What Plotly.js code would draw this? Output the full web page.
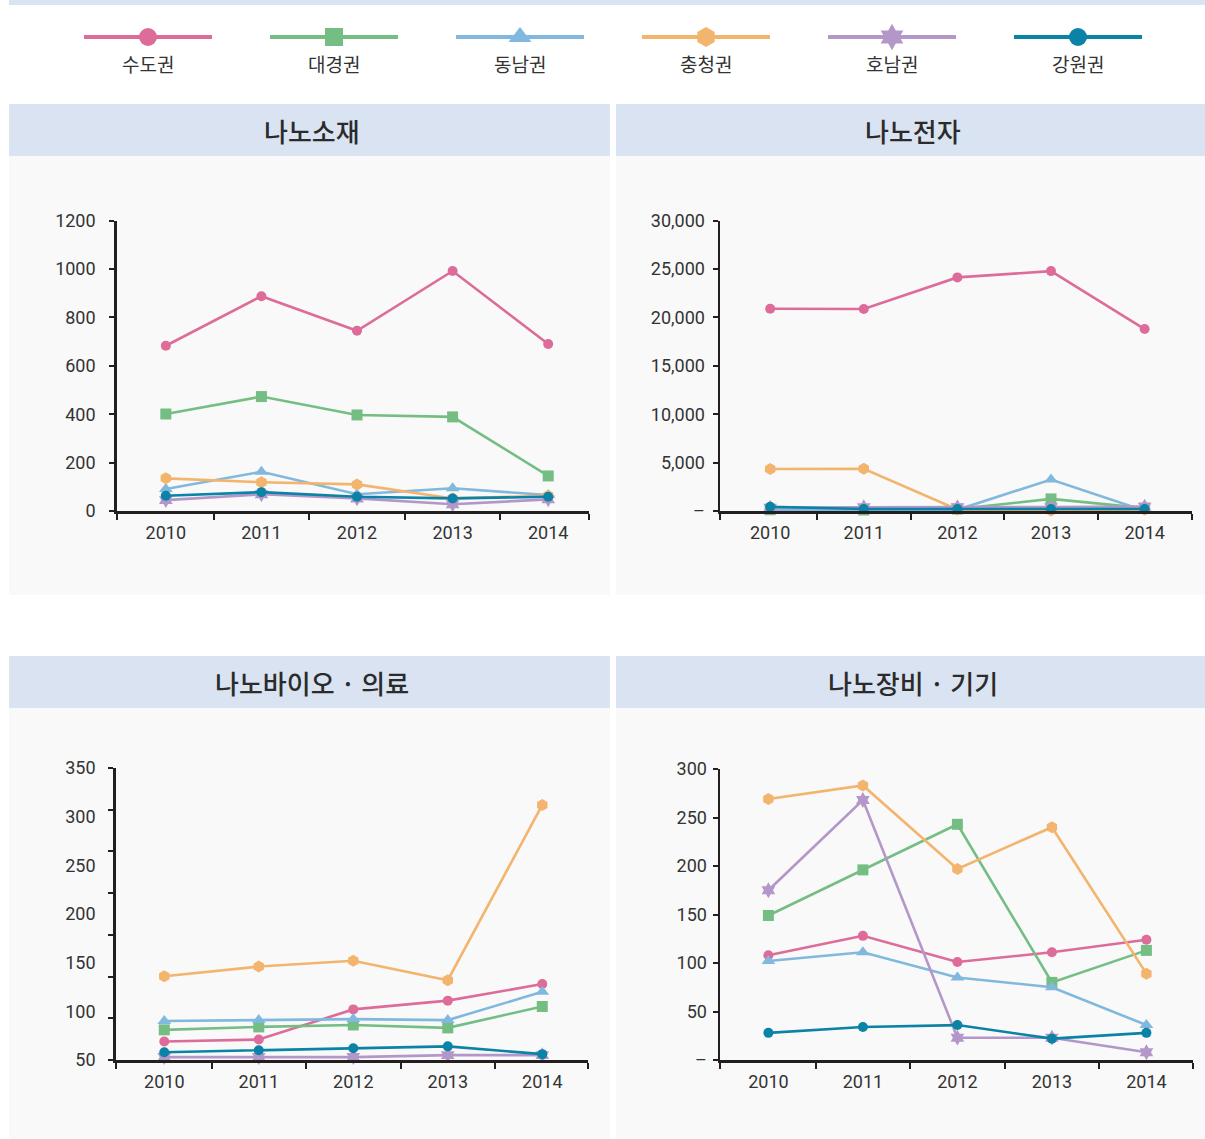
<!DOCTYPE html>
<html><head><meta charset="utf-8">
<script src="https://cdn.plot.ly/plotly-3.0.1.min.js"></script>
<style>html,body{margin:0;padding:0;background:#fff;}#chart{width:1205px;height:1139px;}</style>
</head><body><div id="chart"></div>
<script>
// ---------- data ----------
const years = ['2010', '2011', '2012', '2013', '2014'];
const regions = ['수도권', '대경권', '동남권', '충청권', '호남권', '강원권'];
const panelTitles = ['나노소재', '나노전자', '나노바이오 · 의료', '나노장비 · 기기'];

// 나노소재
const materials_capital     = [683, 888, 745, 992, 690];
const materials_daegyeong   = [401, 473, 397, 389, 145];
const materials_dongnam     = [91, 162, 69, 94, 66];
const materials_chungcheong = [135, 119, 110, 52, 63];
const materials_honam       = [45, 69, 52, 28, 48];
const materials_gangwon     = [63, 78, 59, 52, 59];

// 나노전자
const electronics_capital     = [20900, 20870, 24140, 24790, 18800];
const electronics_daegyeong   = [130, 100, 200, 1250, 300];
const electronics_dongnam     = [100, 80, 120, 3250, 30];
const electronics_chungcheong = [4340, 4370, 150, 60, 150];
const electronics_honam       = [350, 400, 400, 400, 450];
const electronics_gangwon     = [440, 200, 200, 200, 200];

// 나노바이오 · 의료
const bio_capital     = [69, 71, 102, 111, 128];
const bio_daegyeong   = [81, 84, 86, 83, 105];
const bio_dongnam     = [90, 91, 92, 91, 120];
const bio_chungcheong = [136, 146, 152, 132, 312];
const bio_honam       = [53, 53, 53, 55, 55];
const bio_gangwon     = [58, 60, 62, 64, 56];

// 나노장비 · 기기
const equipment_capital     = [108, 128, 101, 111, 124];
const equipment_daegyeong   = [149, 196, 243, 80, 113];
const equipment_dongnam     = [102, 111, 85, 75, 36];
const equipment_chungcheong = [269, 283, 197, 240, 89];
const equipment_honam       = [175, 268, 23, 23, 8];
const equipment_gangwon     = [28, 34, 36, 22, 28];

// y-axis tick labels
const yticks1 = [0, 200, 400, 600, 800, 1000, 1200];
const yticks1Text = ['0', '200', '400', '600', '800', '1000', '1200'];
const yticks2 = [0, 5000, 10000, 15000, 20000, 25000, 30000];
const yticks2Text = ['–', '5,000', '10,000', '15,000', '20,000', '25,000', '30,000'];
const yticks3 = [50, 100, 150, 200, 250, 300, 350];
const yticks3Text = ['50', '100', '150', '200', '250', '300', '350'];
const yticks4 = [0, 50, 100, 150, 200, 250, 300];
const yticks4Text = ['–', '50', '100', '150', '200', '250', '300'];

const panelData = [
  [materials_capital, materials_daegyeong, materials_dongnam, materials_chungcheong, materials_honam, materials_gangwon],
  [electronics_capital, electronics_daegyeong, electronics_dongnam, electronics_chungcheong, electronics_honam, electronics_gangwon],
  [bio_capital, bio_daegyeong, bio_dongnam, bio_chungcheong, bio_honam, bio_gangwon],
  [equipment_capital, equipment_daegyeong, equipment_dongnam, equipment_chungcheong, equipment_honam, equipment_gangwon]
];

// ---------- styles ----------
const W = 1205, H = 1139;
const colors = ['#dd6c9a', '#74be84', '#80b8de', '#f3b46e', '#b497c9', '#0a83a6'];
const symbols = ['circle', 'square', 'triangle-up', 'hexagon', 'hexagram', 'circle'];
const markerSizes = [10, 11, 12, 12, 12, 10];
const legendSizes = [18, 18, 20, 20, 20, 18];
const headerColor = '#d9e3f2';
const bodyColor = '#f9f9f9';
const axisColor = '#231f20';
const tickFont = {family: 'Roboto, sans-serif', size: 18, color: '#333'};

const panels = [
  {x0: 9, x1: 610, hy0: 104, hy1: 156, by1: 595, l: 116.7, r: 589.3, t: 220.7, b: 511, xr: [-0.514, 4.43], yr: [0, 1200], tv: yticks1, tt: yticks1Text, stand: 10},
  {x0: 616, x1: 1205, hy0: 104, hy1: 156, by1: 595, l: 720, r: 1192, t: 220.7, b: 511, xr: [-0.536, 4.506], yr: [0, 30000], tv: yticks2, tt: yticks2Text, stand: 4},
  {x0: 9, x1: 610, hy0: 656, hy1: 708, by1: 1139, l: 115.7, r: 588.3, t: 768, b: 1060, xr: [-0.514, 4.487], yr: [50, 350], tv: yticks3, tt: yticks3Text, stand: 14, oddTicks: true},
  {x0: 616, x1: 1205, hy0: 656, hy1: 708, by1: 1139, l: 720, r: 1193, t: 769, b: 1060, xr: [-0.512, 4.493], yr: [0, 300], tv: yticks4, tt: yticks4Text, stand: 2}
];

const px = v => v / W;
const py = v => 1 - v / H;

const traces = [];
const layout = {
  width: W, height: H,
  margin: {l: 0, r: 0, t: 0, b: 0},
  paper_bgcolor: '#ffffff',
  plot_bgcolor: 'rgba(0,0,0,0)',
  showlegend: false,
  shapes: [],
  annotations: []
};

// top strip
layout.shapes.push({type: 'rect', xref: 'paper', yref: 'paper', x0: px(9), x1: 1, y0: py(5), y1: 1,
  fillcolor: headerColor, line: {width: 0}, layer: 'below'});

const xIdx = years.map((_, i) => i);

panels.forEach((p, k) => {
  const n = k + 1;
  const xa = 'xaxis' + n, ya = 'yaxis' + n;
  layout.shapes.push({type: 'rect', xref: 'paper', yref: 'paper', x0: px(p.x0), x1: px(p.x1), y0: py(p.hy1), y1: py(p.hy0),
    fillcolor: headerColor, line: {width: 0}, layer: 'below'});
  layout.shapes.push({type: 'rect', xref: 'paper', yref: 'paper', x0: px(p.x0), x1: px(p.x1), y0: py(p.by1), y1: py(p.hy1),
    fillcolor: bodyColor, line: {width: 0}, layer: 'below'});
  layout.annotations.push({xref: 'paper', yref: 'paper', x: px((p.x0 + p.x1) / 2 + 2), y: py((p.hy0 + p.hy1) / 2),
    text: panelTitles[k], showarrow: false, xanchor: 'center', yanchor: 'middle',
    font: {family: '"Noto Sans CJK KR", sans-serif', size: 26, color: '#2b2b2b', weight: 500}});

  const boundaries = [p.xr[0] + 0.002].concat(years.slice(0, -1).map((_, i) => i + 0.5)).concat([p.xr[1] - 0.002]);
  layout[xa] = {
    domain: [px(p.l), px(p.r)], anchor: 'y' + n, range: p.xr,
    showgrid: false, zeroline: false, showline: true, linecolor: axisColor, linewidth: 2.5,
    tickmode: 'array', tickvals: xIdx, ticktext: years, ticks: 'outside', ticklen: 0,
    tickfont: tickFont, ticklabelstandoff: 4,
    minor: {tickmode: 'array', tickvals: boundaries, ticks: 'outside', ticklen: 6, tickwidth: 2, tickcolor: axisColor, showgrid: false},
    fixedrange: true
  };
  const yax = {
    domain: [py(p.b), py(p.t)], anchor: 'x' + n, range: p.yr,
    showgrid: false, zeroline: false, showline: true, linecolor: axisColor, linewidth: 2.5,
    tickmode: 'array', tickvals: p.tv, ticktext: p.tt, ticks: 'outside', ticklen: 5, tickwidth: 2, tickcolor: axisColor,
    tickfont: tickFont, ticklabelstandoff: p.stand, fixedrange: true
  };
  if (p.oddTicks) {
    yax.ticklen = 0;
    yax.minor = {tick0: p.yr[0] + 0.0005, dtick: (p.yr[1] - p.yr[0]) / 7 - 0.0001, ticks: 'outside', ticklen: 5, tickwidth: 2, tickcolor: axisColor, showgrid: false};
  }
  layout[ya] = yax;

  panelData[k].forEach((vals, r) => {
    traces.push({
      type: 'scatter', mode: 'lines+markers', name: regions[r],
      x: xIdx, y: vals, xaxis: 'x' + n, yaxis: 'y' + n,
      line: {color: colors[r], width: 2.6},
      marker: {color: colors[r], symbol: symbols[r], size: markerSizes[r]},
      cliponaxis: false, hoverinfo: 'skip'
    });
  });
});

// custom legend (top row)
layout.xaxis5 = {domain: [0, 1], range: [0, W], visible: false, fixedrange: true, anchor: 'y5'};
layout.yaxis5 = {domain: [py(47), py(27)], range: [0, 1], visible: false, fixedrange: true, anchor: 'x5'};
regions.forEach((name, r) => {
  const cx = 148 + r * 186;
  traces.push({type: 'scatter', mode: 'lines', x: [cx - 64, cx + 64], y: [0.5, 0.5], xaxis: 'x5', yaxis: 'y5',
    line: {color: colors[r], width: 4}, hoverinfo: 'skip'});
  traces.push({type: 'scatter', mode: 'markers', x: [cx], y: [0.5], xaxis: 'x5', yaxis: 'y5',
    marker: {color: colors[r], symbol: symbols[r], size: legendSizes[r]}, hoverinfo: 'skip', cliponaxis: false});
  layout.annotations.push({xref: 'x5', yref: 'paper', x: cx, y: py(64), text: name, showarrow: false,
    xanchor: 'center', yanchor: 'middle', font: {family: '"Noto Sans CJK KR", sans-serif', size: 19, color: '#333'}});
});

Plotly.newPlot('chart', traces, layout, {displayModeBar: false, staticPlot: true});
</script>
</body></html>
